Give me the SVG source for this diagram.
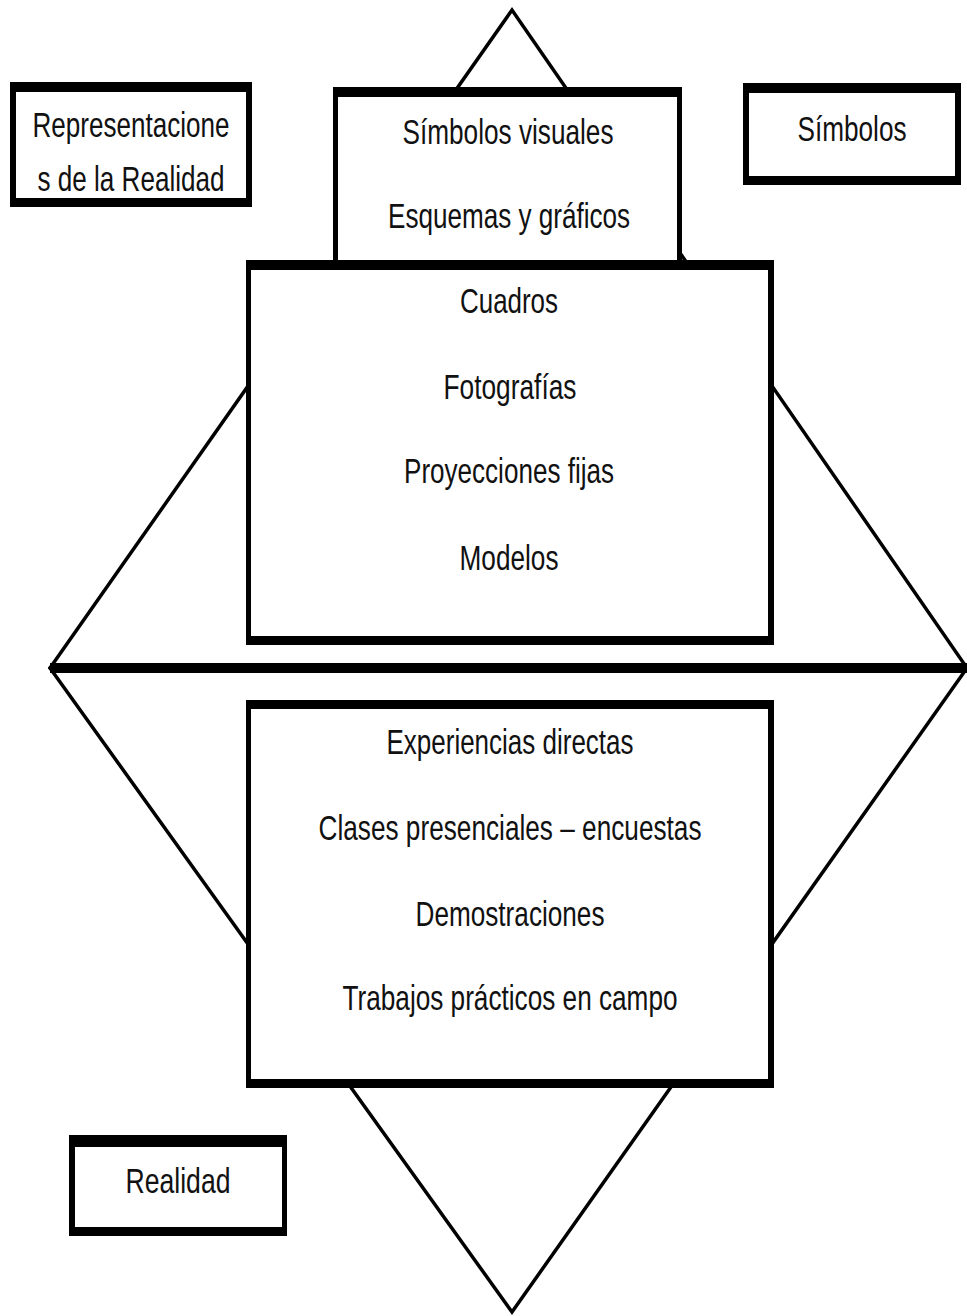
<svg xmlns="http://www.w3.org/2000/svg" width="967" height="1316" viewBox="0 0 967 1316">
<style>
.bg{fill:#fff}
.leg{fill:none;stroke:#000;stroke-width:3.5;stroke-linecap:round;stroke-linejoin:miter}
.axis{stroke:#000;stroke-width:10}
.outer{fill:#000}
.inner{fill:#fff}
.t{font-family:"Liberation Sans",Arial,sans-serif;font-size:35px;fill:#111;text-anchor:middle}
</style>
<rect class="bg" x="0" y="0" width="967" height="1316"/>
<g id="connectors">
<polyline class="leg" points="50,668 512,10 967,668"/>
<polyline class="leg" points="50,668 512,1312 967,668"/>
<line class="axis" x1="50" y1="668" x2="967" y2="668"/>
</g>
<g id="node-representaciones">
<rect class="outer" x="10" y="82" width="242" height="125"/>
<rect class="inner" x="16" y="92" width="230" height="106"/>
<text class="t" x="131" y="137" textLength="197" lengthAdjust="spacingAndGlyphs">Representacione</text>
<text class="t" x="131" y="191" textLength="187" lengthAdjust="spacingAndGlyphs">s de la Realidad</text>
</g>
<g id="node-simbolos">
<rect class="outer" x="743" y="83" width="218" height="102"/>
<rect class="inner" x="749" y="93" width="206" height="83"/>
<text class="t" x="852" y="141" textLength="109" lengthAdjust="spacingAndGlyphs">Símbolos</text>
</g>
<g id="node-simbolos-visuales">
<rect class="outer" x="333" y="87" width="349" height="183"/>
<rect class="inner" x="338" y="97" width="339" height="173"/>
<text class="t" x="508" y="144" textLength="211" lengthAdjust="spacingAndGlyphs">Símbolos visuales</text>
<text class="t" x="509" y="228" textLength="242" lengthAdjust="spacingAndGlyphs">Esquemas y gráficos</text>
</g>
<g id="node-cuadros">
<rect class="outer" x="246" y="260" width="528" height="385"/>
<rect class="inner" x="251" y="270" width="517" height="366"/>
<text class="t" x="509" y="313" textLength="98" lengthAdjust="spacingAndGlyphs">Cuadros</text>
<text class="t" x="510" y="399" textLength="133" lengthAdjust="spacingAndGlyphs">Fotografías</text>
<text class="t" x="509" y="483" textLength="210" lengthAdjust="spacingAndGlyphs">Proyecciones fijas</text>
<text class="t" x="509" y="570" textLength="99" lengthAdjust="spacingAndGlyphs">Modelos</text>
</g>
<g id="node-experiencias">
<rect class="outer" x="246" y="700" width="528" height="388"/>
<rect class="inner" x="251" y="709" width="517" height="370"/>
<text class="t" x="510" y="754" textLength="247" lengthAdjust="spacingAndGlyphs">Experiencias directas</text>
<text class="t" x="510" y="840" textLength="383" lengthAdjust="spacingAndGlyphs">Clases presenciales – encuestas</text>
<text class="t" x="510" y="926" textLength="189" lengthAdjust="spacingAndGlyphs">Demostraciones</text>
<text class="t" x="510" y="1010" textLength="335" lengthAdjust="spacingAndGlyphs">Trabajos prácticos en campo</text>
</g>
<g id="node-realidad">
<rect class="outer" x="69" y="1135" width="218" height="101"/>
<rect class="inner" x="75" y="1147" width="207" height="80"/>
<text class="t" x="178" y="1193" textLength="105" lengthAdjust="spacingAndGlyphs">Realidad</text>
</g>
</svg>
